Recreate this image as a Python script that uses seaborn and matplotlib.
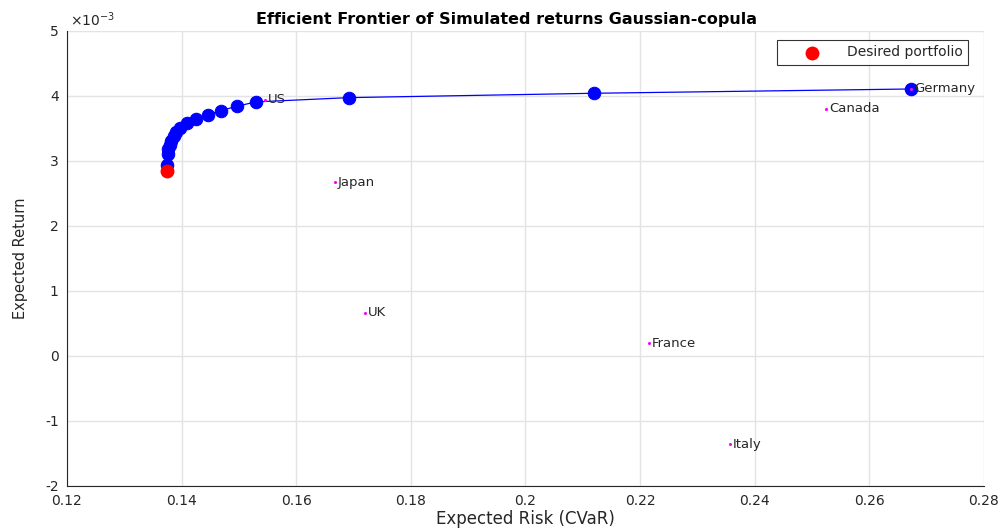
import numpy as np
import pandas as pd
import matplotlib
matplotlib.use("Agg")
import matplotlib.pyplot as plt
import matplotlib.ticker as mticker
import seaborn as sns

# Frontier points (risk = CVaR, return)
frontier_risk = [0.1375, 0.1375, 0.1375, 0.1375, 0.1376, 0.1377, 0.1379, 0.1382, 0.1386, 0.1391,
                 0.1398, 0.1410, 0.1426, 0.1446, 0.1468, 0.1497, 0.1529, 0.1692, 0.2120, 0.2673]
frontier_ret = [2.846e-3, 2.912e-3, 2.979e-3, 3.045e-3, 3.112e-3, 3.178e-3, 3.245e-3, 3.311e-3,
                3.377e-3, 3.444e-3, 3.510e-3, 3.577e-3, 3.643e-3, 3.709e-3, 3.776e-3, 3.842e-3,
                3.909e-3, 3.975e-3, 4.042e-3, 4.108e-3]

# Individual assets
countries = ["US", "Canada", "Japan", "UK", "France", "Italy", "Germany"]
country_risk = [0.1545, 0.2525, 0.1668, 0.1720, 0.2216, 0.2357, 0.2673]
country_ret = [3.94e-3, 3.80e-3, 2.67e-3, 0.666e-3, 0.195e-3, -1.354e-3, 4.108e-3]

# Desired portfolio
desired_risk = [0.1375]
desired_ret = [2.846e-3]

sns.set_style("white")
plt.rcParams["font.family"] = ["DejaVu Sans"]
plt.rcParams["axes.unicode_minus"] = False

frontier = pd.DataFrame({"risk": frontier_risk, "ret": frontier_ret})
assets = pd.DataFrame({"name": countries, "risk": country_risk, "ret": country_ret})
desired = pd.DataFrame({"risk": desired_risk, "ret": desired_ret})

txt = "#262626"
fig = plt.figure(figsize=(10.04, 5.29), dpi=100)
ax = fig.add_axes([0.0667, 0.0813, 0.9133, 0.8601])

sns.lineplot(data=frontier, x="risk", y="ret", sort=False, color="#0000ff", linewidth=0.9,
             marker="o", markersize=9, markeredgecolor="#0000ff", ax=ax, zorder=3)
sns.scatterplot(data=assets, x="risk", y="ret", color="#ff00ff", s=5, linewidth=0, ax=ax, zorder=4)
for _, r in assets.iterrows():
    ax.annotate(r["name"], (r["risk"], r["ret"]), xytext=(2, 0), textcoords="offset points",
                va="center", ha="left", fontsize=9.5, color=txt, zorder=5)
sns.scatterplot(data=desired, x="risk", y="ret", color="#ff0000", s=100, linewidth=0, ax=ax,
                zorder=6, label="Desired portfolio")

ax.set_xlim(0.12, 0.28)
ax.set_ylim(-2e-3, 5e-3)
ax.set_xticks(np.arange(0.12, 0.2801, 0.02))
ax.set_yticks(np.arange(-2e-3, 5.01e-3, 1e-3))
ax.xaxis.set_major_formatter(mticker.FuncFormatter(lambda v, p: f"{v:g}"))
ax.yaxis.set_major_formatter(mticker.FuncFormatter(lambda v, p: f"{v * 1e3:g}"))
ax.text(0.003, 1.005, r"$\times10^{-3}$", transform=ax.transAxes, ha="left", va="bottom",
        fontsize=10, color=txt)

ax.grid(True, color="#e3e3e3", linewidth=1)
ax.set_axisbelow(True)
for s in ["top", "right"]:
    ax.spines[s].set_visible(False)
for s in ["left", "bottom"]:
    ax.spines[s].set_color(txt)
    ax.spines[s].set_linewidth(0.8)
ax.tick_params(direction="in", length=4, labelsize=10, colors=txt, width=0.6, pad=6)

ax.set_title("Efficient Frontier of Simulated returns Gaussian-copula", fontsize=11.5,
             fontweight="bold", pad=5, x=0.479, color="black")
ax.set_xlabel("Expected Risk (CVaR)", fontsize=12, color=txt, labelpad=1)
ax.set_ylabel("Expected Return", fontsize=10.5, color=txt, labelpad=12)

leg = ax.legend(loc="upper right", bbox_to_anchor=(0.983, 0.981), fontsize=10, frameon=True,
                fancybox=False, edgecolor="black", borderpad=0.4, handlelength=4.2,
                handletextpad=0.4, borderaxespad=0)
leg.get_frame().set_linewidth(0.8)

fig.savefig("out.png", dpi=100)
